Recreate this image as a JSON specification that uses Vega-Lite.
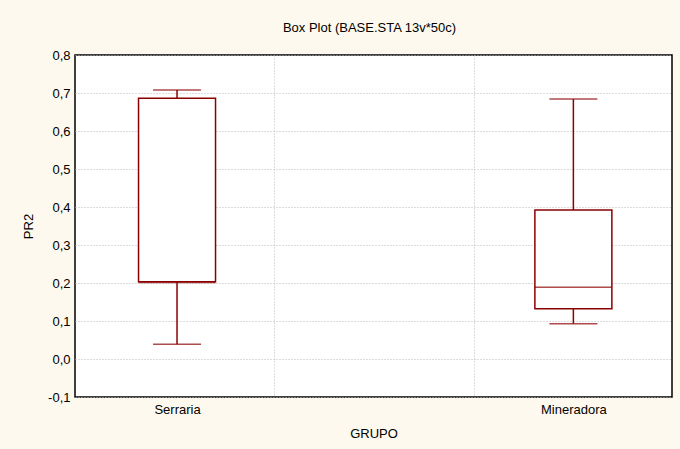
{
  "$schema": "https://vega.github.io/schema/vega-lite/v6.json",
  "autosize": "none",
  "width": 597,
  "height": 342,
  "padding": {"left": 75, "top": 55, "right": 8, "bottom": 52},
  "background": "#FEF9EE",
  "title": {"text": "Box Plot (BASE.STA 13v*50c)", "font": "Liberation Sans", "fontSize": 13, "fontWeight": "normal", "color": "#000000", "offset": 14, "dx": -4},
  "config": {
    "view": {"stroke": "#000000", "strokeWidth": 1.5, "fill": "#FFFFFF"},
    "axis": {"labelFont": "Liberation Sans", "titleFont": "Liberation Sans", "labelFontSize": 13, "titleFontSize": 13, "titleFontWeight": "normal", "labelColor": "#000000", "titleColor": "#000000", "domain": false, "ticks": false, "labelOverlap": false, "labelBound": false, "labelFlush": false, "gridColor": "#B8B8B8", "gridDash": [1, 2], "gridWidth": 1}
  },
  "data": {
    "values": [
      {"grupo": "Serraria", "idx": 1, "min": 0.039, "q1": 0.203, "median": 0.201, "q3": 0.686, "max": 0.708},
      {"grupo": "Mineradora", "idx": 2, "min": 0.093, "q1": 0.132, "median": 0.189, "q3": 0.392, "max": 0.684}
    ]
  },
  "encoding": {
    "x": {
      "field": "idx", "type": "quantitative",
      "scale": {"domain": [0.7552, 2.2362], "nice": false, "zero": false},
      "axis": {
        "title": "GRUPO", "values": [1, 1.245, 1.748, 2], "tickCount": 20, "labelPadding": 6, "titlePadding": 11, "labelOverlap": false,
        "labelExpr": "datum.value == 1 ? 'Serraria' : (datum.value == 2 ? 'Mineradora' : '')",
        "gridOpacity": {"condition": {"test": "datum.value == 1 || datum.value == 2", "value": 0}, "value": 1}
      }
    }
  },
  "layer": [
    {
      "mark": {"type": "rule", "color": "#8B0000", "strokeWidth": 1.5},
      "encoding": {
        "y": {"field": "min", "type": "quantitative",
          "scale": {"domain": [-0.1, 0.8], "nice": false, "zero": false},
          "axis": {"title": "PR2", "values": [-0.1, 0, 0.1, 0.2, 0.3, 0.4, 0.5, 0.6, 0.7, 0.8], "tickCount": 20, "labelPadding": 5, "titlePadding": 12, "labelOverlap": false, "labelBound": false, "labelFlush": false,
            "labelExpr": "replace(replace(format(datum.value, '.1f'), '.', ','), '\u2212', '-')"}},
        "y2": {"field": "q1"}
      }
    },
    {
      "mark": {"type": "rule", "color": "#8B0000", "strokeWidth": 1.5},
      "encoding": {
        "y": {"field": "q3", "type": "quantitative"},
        "y2": {"field": "max"}
      }
    },
    {
      "mark": {"type": "bar", "width": 77, "fill": "#FFFFFF", "stroke": "#8B0000", "strokeWidth": 1.5},
      "encoding": {
        "y": {"field": "q1", "type": "quantitative"},
        "y2": {"field": "q3"}
      }
    },
    {
      "mark": {"type": "tick", "size": 77, "thickness": 1.5, "color": "#8B0000", "orient": "horizontal"},
      "encoding": {"y": {"field": "median", "type": "quantitative"}}
    },
    {
      "mark": {"type": "tick", "size": 48, "thickness": 1.5, "color": "#8B0000", "orient": "horizontal"},
      "encoding": {"y": {"field": "min", "type": "quantitative"}}
    },
    {
      "mark": {"type": "tick", "size": 48, "thickness": 1.5, "color": "#8B0000", "orient": "horizontal"},
      "encoding": {"y": {"field": "max", "type": "quantitative"}}
    }
  ]
}
